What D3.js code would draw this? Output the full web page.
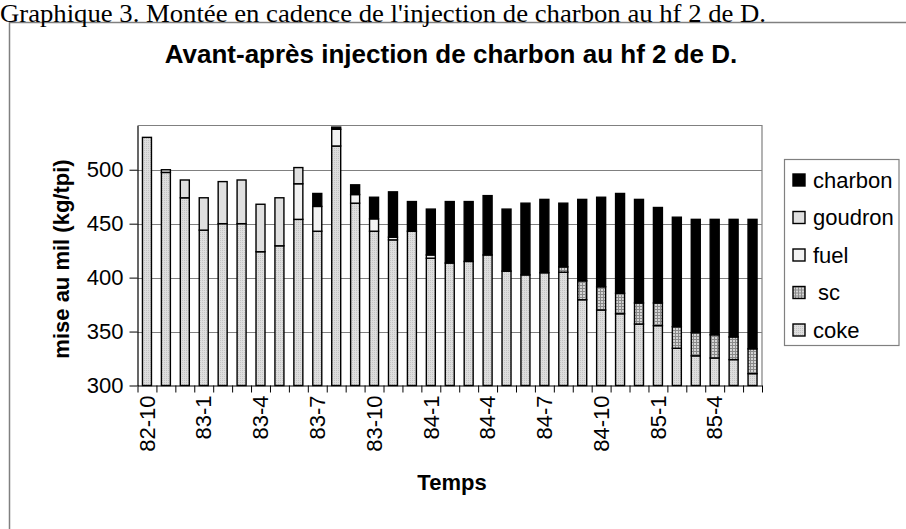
<!DOCTYPE html>
<html><head><meta charset="utf-8">
<script src="https://cdn.jsdelivr.net/npm/d3@7"></script>
<style>body{margin:0;background:#fff}svg{display:block}</style>
</head><body><svg id="c" width="906" height="529"></svg>
<script>
const months = ["82-10","82-11","82-12","83-1","83-2","83-3","83-4","83-5","83-6","83-7","83-8","83-9","83-10","83-11","83-12","84-1","84-2","84-3","84-4","84-5","84-6","84-7","84-8","84-9","84-10","84-11","84-12","85-1","85-2","85-3","85-4","85-5","85-6"];
const coke    = [530,497.5,474,444,450,450,424,429.5,454,443,522,469,443,435,443,418,413.5,415,421,406,402.5,404.5,405,379.5,370,366.5,357,355.5,334.5,327.5,325.5,324,311];
const sc      = [0,0,0,0,0,0,0,0,0,0,0,0,0,0,0,0,0,0,0,0,0,0,5,17.5,21.5,19,19.5,21,20,21.5,21.5,21,23];
const fuel    = [0,0,0,0,0,0,0,0,33,23,15.5,8,11.5,2.5,0,3,0,0,0,0,0,0,0,0,0,0,0,0,0,0,0,0,0];
const goudron = [0,2.5,16.5,30,39,40.5,44,44.5,15,0,0,0,0,0,0,0,0,0,0,0,0,0,0,0,0,0,0,0,0,0,0,0,0];
const charbon = [0,0,0,0,0,0,0,0,0,12,2,9,20,42,27.5,42.5,57,55.5,55,57.5,66.5,68,59,75.5,83,92.5,96,88.5,101.5,105,107,109,120];
const yTicks = [300,350,400,450,500];
const legendOrder = ["charbon","goudron","fuel","sc","coke"];
const keys = ["coke","sc","fuel","goudron","charbon"];

const series = {coke, sc, fuel, goudron, charbon};
const table = months.map((m,i)=>{const o={month:m}; keys.forEach(k=>o[k]=series[k][i]); return o;});

const svg = d3.select("#c");
const defs = svg.append("defs");
const pc = defs.append("pattern").attr("id","pCoke").attr("width",2).attr("height",2).attr("patternUnits","userSpaceOnUse");
pc.append("rect").attr("width",2).attr("height",2).attr("fill","#dedede");
pc.append("rect").attr("width",1).attr("height",1).attr("fill","#c4c4c4");
const ps = defs.append("pattern").attr("id","pSc").attr("width",3).attr("height",3).attr("patternUnits","userSpaceOnUse");
ps.append("rect").attr("width",3).attr("height",3).attr("fill","#d4d4d4");
ps.append("rect").attr("width",3).attr("height",1).attr("fill","#8a8a8a");
ps.append("rect").attr("width",1).attr("height",3).attr("fill","#8a8a8a");
const fills = {coke:"url(#pCoke)", sc:"url(#pSc)", fuel:"#f2f2f2", goudron:"#e0e0e0", charbon:"#000"};

const L=137.5, R=762, T=125.5, B=385.5;
const x = d3.scaleBand().domain(months).range([L,R]).paddingInner(0.525).paddingOuter(0.2625);
const xi = d3.scaleLinear().domain([0,months.length]).range([L,R]);
const y = d3.scaleLinear().domain([300,541]).range([B,T]).clamp(true);

// outer frame
svg.append("rect").attr("x",9.5).attr("y",22.5).attr("width",920).attr("height",600)
  .attr("fill","none").attr("stroke","#808080").attr("stroke-width",1.5);

// caption
svg.append("text").attr("x",0).attr("y",22).attr("font-family","Liberation Serif, Times New Roman, serif")
  .attr("font-size",24.5).attr("textLength",766).attr("lengthAdjust","spacingAndGlyphs")
  .text("Graphique 3. Montée en cadence de l'injection de charbon au hf 2 de D.");

// title
svg.append("text").attr("x",451).attr("y",63).attr("text-anchor","middle")
  .attr("font-family","Liberation Sans, Arial, sans-serif").attr("font-weight","bold").attr("font-size",26)
  .text("Avant-après injection de charbon au hf 2 de D.");

// gridlines
svg.append("g").selectAll("line").data(yTicks.filter(v=>v>300)).join("line")
  .attr("x1",L).attr("x2",R).attr("y1",d=>Math.round(y(d))+0.5).attr("y2",d=>Math.round(y(d))+0.5)
  .attr("stroke","#808080").attr("stroke-width",1);
// plot border top/right
svg.append("path").attr("d",`M${L},${T}H${R}V${B}`).attr("fill","none").attr("stroke","#808080").attr("stroke-width",1.2);

// bars
const stacked = d3.stack().keys(keys)(table);
svg.append("g").selectAll("g").data(stacked).join("g")
  .attr("fill",d=>fills[d.key])
  .selectAll("rect").data(d=>d.filter(s=>s[1]-s[0]>0)).join("rect")
  .attr("x",d=>x(d.data.month)).attr("width",x.bandwidth())
  .attr("y",d=>y(d[1])).attr("height",d=>y(d[0])-y(d[1]))
  .attr("stroke","#000").attr("stroke-width",1.4);

// y axis
const ya = svg.append("g").attr("transform",`translate(${L},0)`)
  .call(d3.axisLeft(y).tickValues(yTicks).tickSize(8).tickPadding(6).tickSizeOuter(0));
ya.select(".domain").attr("stroke","#000").attr("stroke-width",1.2);
ya.selectAll("text").attr("font-family","Liberation Sans, Arial, sans-serif").attr("font-size",22).attr("fill","#000");

// x axis boundary ticks
const xt = svg.append("g").attr("transform",`translate(0,${B})`)
  .call(d3.axisBottom(xi).tickValues(d3.range(months.length+1)).tickFormat("").tickSize(7).tickSizeOuter(0));
xt.select(".domain").attr("stroke","#000").attr("stroke-width",1.2);
// x labels
const xl = svg.append("g").attr("transform",`translate(0,${B})`)
  .call(d3.axisBottom(x).tickValues(months.filter((d,i)=>i%3===0)).tickSize(0));
xl.select(".domain").remove();
xl.selectAll("text").attr("transform","rotate(-90)").attr("text-anchor","end")
  .attr("x",-10).attr("y",0).attr("dy","0.35em")
  .attr("font-family","Liberation Sans, Arial, sans-serif").attr("font-size",22).attr("fill","#000");

// axis titles
svg.append("text").attr("transform","translate(69,259) rotate(-90)").attr("text-anchor","middle")
  .attr("font-family","Liberation Sans, Arial, sans-serif").attr("font-weight","bold").attr("font-size",22)
  .text("mise au mil (kg/tpi)");
svg.append("text").attr("x",452).attr("y",490).attr("text-anchor","middle")
  .attr("font-family","Liberation Sans, Arial, sans-serif").attr("font-weight","bold").attr("font-size",22)
  .text("Temps");

// legend
const lg = svg.append("g");
lg.append("rect").attr("x",784.5).attr("y",159.5).attr("width",114.5).attr("height",186)
  .attr("fill","#fff").attr("stroke","#808080").attr("stroke-width",1.2);
const li = lg.selectAll("g.it").data(legendOrder).join("g").attr("class","it")
  .attr("transform",(d,i)=>`translate(0,${180+i*37.5})`);
li.append("rect").attr("x",793).attr("y",-6).attr("width",12).attr("height",12)
  .attr("fill",d=>fills[d]).attr("stroke","#000").attr("stroke-width",1.4);
li.append("text").attr("x",d=>d==="sc"?818:813).attr("y",0).attr("dy","0.35em")
  .attr("font-family","Liberation Sans, Arial, sans-serif").attr("font-size",22)
  .text(d=>d);
</script></body></html>
